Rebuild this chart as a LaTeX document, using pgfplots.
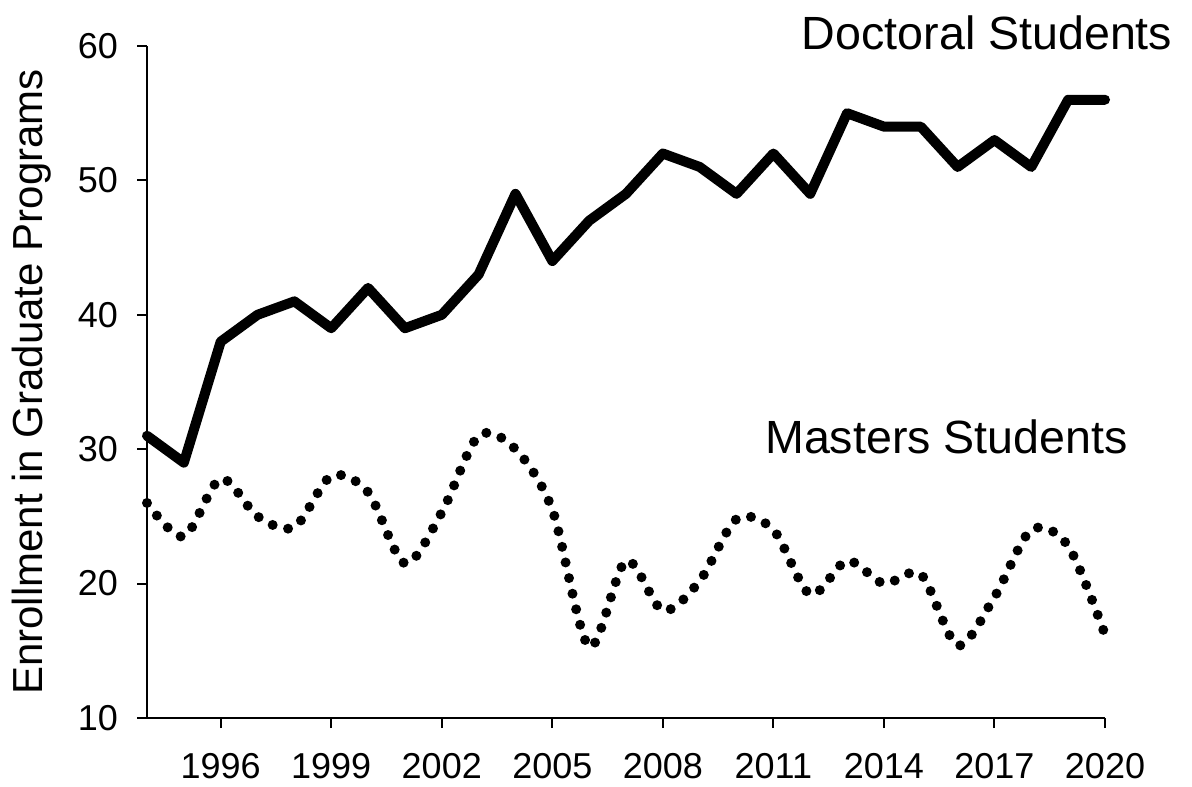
\documentclass[border=0pt]{standalone}
\usepackage{fontspec}
\setmainfont{Liberation Sans}
\usepackage{pgfplots}
\pgfplotsset{compat=1.18}
\begin{document}
\begin{tikzpicture}
\useasboundingbox (-73.5pt,-34pt) rectangle (522.5pt,359pt);
\begin{axis}[
  scale only axis,
  width=479pt, height=336pt,
  xmin=1994, xmax=2020, ymin=10, ymax=60,
  axis x line*=bottom, axis y line*=left,
  axis line style={line width=1pt,-},
  tick style={line width=1pt,black},
  tick align=outside, major tick length=5pt,
  xtick={1996,1999,2002,2005,2008,2011,2014,2017,2020},
  xticklabels={1996,1999,2002,2005,2008,2011,2014,2017,2020},
  ytick={10,20,30,40,50,60},
  yticklabels={10,20,30,40,50,60},
  ticklabel style={font=\fontsize{18}{21}\selectfont},
  xticklabel style={yshift=-9pt},
  yticklabel style={xshift=-6pt},
  ylabel={Enrollment in Graduate Programs},
  every axis y label/.style={at={(axis description cs:0,0.5)},xshift=-57.5pt,rotate=90,anchor=center,font=\fontsize{21}{25}\selectfont},
  clip=false,
]
\addplot[black, line width=5pt, line join=round, line cap=round] coordinates {
(1994,31) (1995,29) (1996,38) (1997,40) (1998,41) (1999,39) (2000,42) (2001,39) (2002,40)
(2003,43) (2004,49) (2005,44) (2006,47) (2007,49) (2008,52) (2009,51) (2010,49) (2011,52)
(2012,49) (2013,55) (2014,54) (2015,54) (2016,51) (2017,53) (2018,51) (2019,56) (2020,56)
};
\addplot[black, line width=5pt, line cap=round, dash pattern=on 0pt off 8pt, smooth] coordinates {
(1994,26) (1995,23.5) (1996,27.8) (1997,25) (1998,24.2) (1999,28) (2000,26.8) (2001,21.5) (2002,25.3)
(2003,31) (2004,30) (2005,25.5) (2006,15.3) (2007,21.7) (2008,18) (2009,20.2) (2010,24.8) (2011,24)
(2012,19.2) (2013,21.7) (2014,20) (2015,20.7) (2016,15.4) (2017,19) (2018,24) (2019,22.8) (2020,16.2)
};
\node[font=\fontsize{23.3}{28}\selectfont] at (axis cs:2016.8,61) {Doctoral Students};
\node[font=\fontsize{23.3}{28}\selectfont] at (axis cs:2015.7,30.9) {Masters Students};
\end{axis}
\end{tikzpicture}
\end{document}
